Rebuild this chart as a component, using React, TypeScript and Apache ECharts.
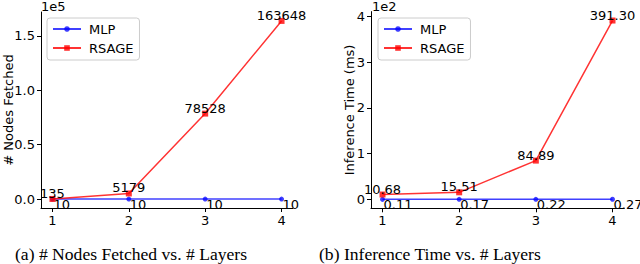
import React, { useEffect, useRef } from "react";
import * as echarts from "echarts";

const layers = [1, 2, 3, 4];
const xTickLabels = ["1", "2", "3", "4"];
const seriesNames = ["MLP", "RSAGE"];
const mlpNodes = [10, 10, 10, 10];
const rsageNodes = [135, 5179, 78528, 163648];
const mlpTime = [0.11, 0.17, 0.22, 0.27];
const rsageTime = [10.68, 15.51, 84.89, 391.3];
const nodesTicks = [0, 50000, 100000, 150000];
const timeTicks = [0, 100, 200, 300, 400];
const captions = ["(a) # Nodes Fetched vs. # Layers", "(b) Inference Time vs. # Layers"];

const FONT = "DejaVu Sans";
const FS = 13;
const BLUE = "rgba(0,0,255,0.75)";
const RED = "rgba(255,0,0,0.8)";

const pairs = (ys: number[]) => layers.map((x, i) => [x, ys[i]]);

function xAxis(gridIndex: number) {
  return {
    type: "value",
    gridIndex,
    min: 0.85,
    max: 4.15,
    splitLine: { show: false },
    axisLine: { show: true, onZero: false, lineStyle: { color: "#000", width: 1 } },
    axisTick: { show: true, length: 4, customValues: layers, lineStyle: { color: "#000" } },
    axisLabel: {
      customValues: layers,
      margin: 6,
      color: "#000",
      fontFamily: FONT,
      fontSize: FS,
      formatter: (v: number) => xTickLabels[layers.indexOf(v)] ?? "",
    },
  };
}

function yAxis(gridIndex: number, min: number, max: number, ticks: number[], scale: number, digits: number, name: string, nameGap: number) {
  return {
    type: "value",
    gridIndex,
    min,
    max,
    name,
    nameLocation: "middle",
    nameGap,
    nameMoveOverlap: false,
    nameTextStyle: { color: "#000", fontFamily: FONT, fontSize: FS },
    splitLine: { show: false },
    axisLine: { show: true, onZero: false, lineStyle: { color: "#000", width: 1 } },
    axisTick: { show: true, length: 4, customValues: ticks, lineStyle: { color: "#000" } },
    axisLabel: {
      customValues: ticks,
      margin: 6,
      color: "#000",
      fontFamily: FONT,
      fontSize: FS,
      formatter: (v: number) => (v / scale).toFixed(digits),
    },
  };
}

function mlpSeries(idx: number, data: number[], fmt: (v: number) => string) {
  return {
    type: "line",
    name: seriesNames[0],
    xAxisIndex: idx,
    yAxisIndex: idx,
    data: pairs(data),
    symbol: "circle",
    symbolSize: 5,
    lineStyle: { color: BLUE, width: 1.5 },
    itemStyle: { color: BLUE },
    label: {
      show: true,
      position: [3.5, 1.5],
      align: "left",
      verticalAlign: "top",
      color: "#000",
      fontFamily: FONT,
      fontSize: FS,
      formatter: (p: any) => fmt(p.value[1]),
    },
    z: 2,
  };
}

function rsageSeries(idx: number, data: number[], fmt: (v: number) => string) {
  return {
    type: "line",
    name: seriesNames[1],
    xAxisIndex: idx,
    yAxisIndex: idx,
    data: pairs(data),
    symbol: "rect",
    symbolSize: 6,
    lineStyle: { color: RED, width: 1.5 },
    itemStyle: { color: RED },
    label: {
      show: true,
      position: [3, 4],
      align: "center",
      verticalAlign: "bottom",
      color: "#000",
      fontFamily: FONT,
      fontSize: FS,
      formatter: (p: any) => fmt(p.value[1]),
    },
    z: 3,
  };
}

function legend(left: number) {
  return {
    orient: "vertical",
    left,
    top: 18,
    data: seriesNames,
    padding: [4, 6, 5, 5],
    itemWidth: 28,
    itemHeight: 7,
    itemGap: 5,
    borderColor: "#cccccc",
    borderWidth: 1,
    borderRadius: 3,
    backgroundColor: "rgba(255,255,255,0.8)",
    textStyle: { color: "#000", fontFamily: FONT, fontSize: FS, lineHeight: 14, padding: [0, 0, 0, 3] },
    selectedMode: false,
  };
}

export default function App() {
  const ref = useRef<HTMLDivElement>(null);
  useEffect(() => {
    if (!ref.current) return;
    const chart = echarts.init(ref.current, null, { renderer: "svg" });
    const nodesRange = rsageNodes[3] - mlpNodes[0];
    const timeRange = rsageTime[3] - mlpTime[0];
    chart.setOption({
      animation: false,
      backgroundColor: "#fff",
      grid: [
        { left: 41, top: 12, width: 252, height: 196, outerBoundsMode: "none", containLabel: false },
        { left: 371, top: 11.6, width: 253, height: 196.7, outerBoundsMode: "none", containLabel: false },
      ],
      xAxis: [xAxis(0), xAxis(1)],
      yAxis: [
        yAxis(0, mlpNodes[0] - 0.05 * nodesRange, rsageNodes[3] + 0.05 * nodesRange, nodesTicks, 1e5, 1, "# Nodes Fetched", 26),
        yAxis(1, mlpTime[0] - 0.05 * timeRange, rsageTime[3] + 0.05 * timeRange, timeTicks, 1e2, 0, "Inference Time (ms)", 15),
      ],
      legend: [legend(47), legend(378)],
      series: [
        mlpSeries(0, mlpNodes, (v) => String(v)),
        rsageSeries(0, rsageNodes, (v) => String(v)),
        mlpSeries(1, mlpTime, (v) => v.toFixed(2)),
        rsageSeries(1, rsageTime, (v) => v.toFixed(2)),
      ],
      graphic: [
        { type: "text", left: 41, top: 0, style: { text: "1e5", fill: "#000", font: `${FS}px "${FONT}"` } },
        { type: "text", left: 372, top: 0, style: { text: "1e2", fill: "#000", font: `${FS}px "${FONT}"` } },
        { type: "text", left: 15, top: 245, style: { text: captions[0], fill: "#000", font: `17.6px "Liberation Serif"` } },
        { type: "text", left: 319, top: 245, style: { text: captions[1], fill: "#000", font: `17.6px "Liberation Serif"` } },
      ],
    });
    return () => chart.dispose();
  }, []);
  return (
    <div
      ref={ref}
      style={{ position: "fixed", left: 0, top: 0, width: 640, height: 264, background: "#fff" }}
    />
  );
}
